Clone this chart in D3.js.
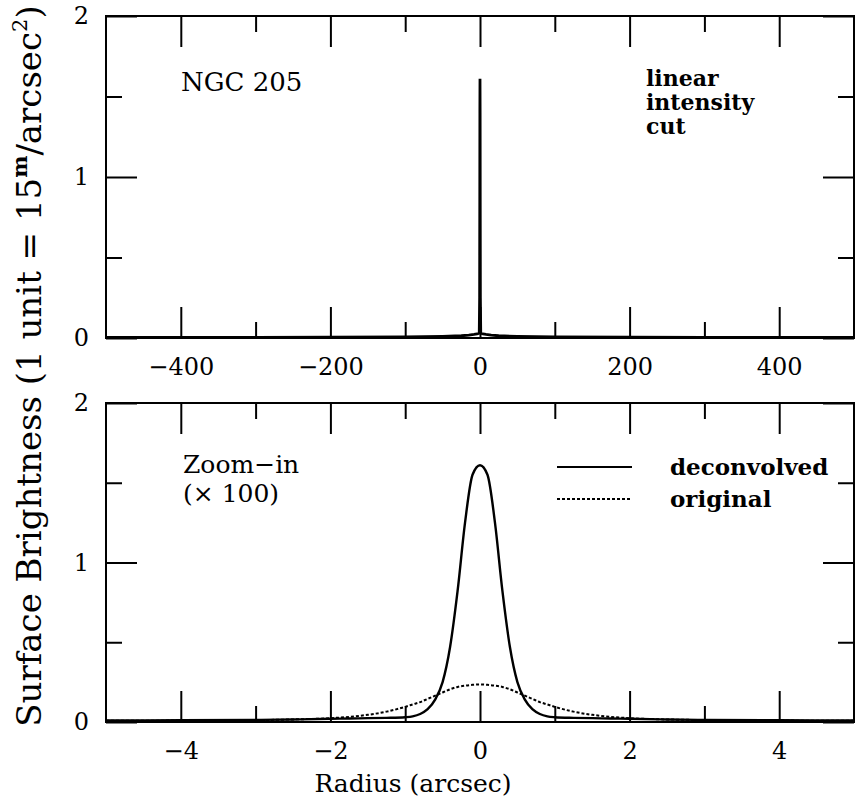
<!DOCTYPE html>
<html>
<head>
<meta charset="utf-8">
<script src="https://cdn.jsdelivr.net/npm/d3@7"></script>
<style>
  body { margin: 0; background: #fff; }
  svg { display: block; font-family: "DejaVu Serif", serif; }
</style>
</head>
<body>
<script>
// top panel: full cut, radius in arcsec
const topRadius = [-500, -400, -300, -200, -100, -50, -25, -15, -8, -4, -2, -1, -0.5, -0.3, -0.15, 0,
                   0.15, 0.3, 0.5, 1, 2, 4, 8, 15, 25, 50, 100, 200, 300, 400, 500]
const topBrightness = [0.003, 0.003, 0.004, 0.005, 0.007, 0.01, 0.014, 0.018, 0.022, 0.025, 0.028, 0.03, 0.25, 0.82, 1.4, 1.61,
                       1.4, 0.82, 0.25, 0.03, 0.028, 0.025, 0.022, 0.018, 0.014, 0.01, 0.007, 0.005, 0.004, 0.003, 0.003]

// bottom panel: zoom-in
const zoomRadius = [-5, -4, -3, -2.5, -2, -1.75, -1.5, -1.25, -1, -0.9, -0.8, -0.7, -0.6, -0.5, -0.4, -0.3, -0.2, -0.1, 0,
                    0.1, 0.2, 0.3, 0.4, 0.5, 0.6, 0.7, 0.8, 0.9, 1, 1.25, 1.5, 1.75, 2, 2.5, 3, 4, 5]
const deconvolved = [0.01, 0.011, 0.013, 0.016, 0.02, 0.022, 0.024, 0.026, 0.03, 0.035, 0.05, 0.08, 0.14, 0.25, 0.47, 0.82, 1.25, 1.55, 1.61,
                     1.55, 1.25, 0.82, 0.47, 0.25, 0.14, 0.08, 0.05, 0.035, 0.03, 0.026, 0.024, 0.022, 0.02, 0.016, 0.013, 0.011, 0.01]
const original = [0.008, 0.009, 0.012, 0.016, 0.024, 0.032, 0.045, 0.065, 0.095, 0.11, 0.125, 0.145, 0.165, 0.185, 0.205, 0.22, 0.228, 0.233, 0.235,
                  0.233, 0.228, 0.22, 0.205, 0.185, 0.165, 0.145, 0.125, 0.11, 0.095, 0.065, 0.045, 0.032, 0.024, 0.016, 0.012, 0.009, 0.008]

const topMajor = [-400, -200, 0, 200, 400]
const topMinor = [-300, -100, 100, 300]
const zoomMajor = [-4, -2, 0, 2, 4]
const zoomMinor = [-3, -1, 1, 3]
const yMajor = [0, 1, 2]
const yMinor = [0.5, 1.5]

const W = 855, H = 804
const left = 106, right = 854
const MAJ = 31, MIN = 16

const svg = d3.select('body').append('svg')
    .attr('width', W)
    .attr('height', H)

function panel(xDomain, top, bottom, xMajor, xMinor, fmt) {
  const x = d3.scaleLinear().domain(xDomain).range([left, right])
  const y = d3.scaleLinear().domain([0, 2]).range([bottom, top])
  const g = svg.append('g')

  const tickStyle = sel => {
    sel.select('.domain').remove()
    sel.selectAll('line').attr('stroke', '#000').attr('stroke-width', 2)
    sel.selectAll('text').attr('fill', '#000').style('font-family', '"DejaVu Serif", serif').style('font-size', '24px')
  }

  // x ticks, bottom (labelled) and top
  g.append('g').attr('transform', 'translate(0,' + bottom + ')')
    .call(d3.axisBottom(x).tickValues(xMajor).tickSize(-MAJ).tickPadding(20).tickFormat(fmt)).call(tickStyle)
  g.append('g').attr('transform', 'translate(0,' + bottom + ')')
    .call(d3.axisBottom(x).tickValues(xMinor).tickSize(-MIN).tickFormat('')).call(tickStyle)
  g.append('g').attr('transform', 'translate(0,' + top + ')')
    .call(d3.axisTop(x).tickValues(xMajor).tickSize(-MAJ).tickFormat('')).call(tickStyle)
  g.append('g').attr('transform', 'translate(0,' + top + ')')
    .call(d3.axisTop(x).tickValues(xMinor).tickSize(-MIN).tickFormat('')).call(tickStyle)

  // y ticks, left (labelled) and right
  g.append('g').attr('transform', 'translate(' + left + ',0)')
    .call(d3.axisLeft(y).tickValues(yMajor).tickSize(-MAJ).tickPadding(17).tickFormat(d3.format('d'))).call(tickStyle)
  g.append('g').attr('transform', 'translate(' + left + ',0)')
    .call(d3.axisLeft(y).tickValues(yMinor).tickSize(-MIN).tickFormat('')).call(tickStyle)
  g.append('g').attr('transform', 'translate(' + right + ',0)')
    .call(d3.axisRight(y).tickValues(yMajor).tickSize(-MAJ).tickFormat('')).call(tickStyle)
  g.append('g').attr('transform', 'translate(' + right + ',0)')
    .call(d3.axisRight(y).tickValues(yMinor).tickSize(-MIN).tickFormat('')).call(tickStyle)

  g.append('rect')
    .attr('x', left).attr('y', top)
    .attr('width', right - left).attr('height', bottom - top)
    .attr('fill', 'none').attr('stroke', '#000').attr('stroke-width', 2)

  return { x, y, g }
}

const minusFmt = d => d3.format('d')(d).replace('-', '\u2212')

const p1 = panel([-500, 500], 16, 338, topMajor, topMinor, minusFmt)
const p2 = panel([-5, 5], 403, 722, zoomMajor, zoomMinor, minusFmt)

// curves
const topLine = d3.line()
    .x((d, i) => p1.x(topRadius[i]))
    .y(d => p1.y(d))
p1.g.append('path')
    .datum(topBrightness)
    .attr('d', topLine)
    .attr('fill', 'none').attr('stroke', '#000').attr('stroke-width', 2.8)

const zoomLine = d3.line()
    .x((d, i) => p2.x(zoomRadius[i]))
    .y(d => p2.y(d))
    .curve(d3.curveMonotoneX)
p2.g.append('path')
    .datum(original)
    .attr('d', zoomLine)
    .attr('fill', 'none').attr('stroke', '#000').attr('stroke-width', 2)
    .attr('stroke-dasharray', '3,2')
p2.g.append('path')
    .datum(deconvolved)
    .attr('d', zoomLine)
    .attr('fill', 'none').attr('stroke', '#000').attr('stroke-width', 2.4)

// annotations
svg.append('text').attr('x', 181).attr('y', 91).style('font-size', '26px').text('NGC 205')
;['linear', 'intensity', 'cut'].forEach((t, i) => {
  svg.append('text').attr('x', 646).attr('y', 86 + i * 24)
    .style('font-size', '22px').style('font-weight', 'bold').text(t)
})
svg.append('text').attr('x', 183).attr('y', 473).style('font-size', '25px').text('Zoom\u2212in')
svg.append('text').attr('x', 183).attr('y', 502).style('font-size', '25px').text('(\u00d7 100)')

// legend
const legend = [
  { label: 'deconvolved', y: 467, dash: null },
  { label: 'original', y: 499, dash: '3,2' }
]
legend.forEach(l => {
  svg.append('line')
    .attr('x1', 557).attr('x2', 632).attr('y1', l.y).attr('y2', l.y)
    .attr('stroke', '#000').attr('stroke-width', 2)
    .attr('stroke-dasharray', l.dash)
  svg.append('text').attr('x', 670).attr('y', l.y + 8)
    .style('font-size', '23px').style('font-weight', 'bold').text(l.label)
})

// axis titles
svg.append('text')
    .attr('x', 413).attr('y', 792)
    .attr('text-anchor', 'middle')
    .style('font-size', '25px')
    .text('Radius (arcsec)')

const yTitle = svg.append('text')
    .attr('transform', 'translate(41,366) rotate(-90)')
    .attr('text-anchor', 'middle')
    .style('font-size', '34px')
yTitle.append('tspan').text('Surface Brightness (1 unit = 15')
yTitle.append('tspan').attr('dy', -14).style('font-size', '21px').style('font-weight', 'bold').text('m')
yTitle.append('tspan').attr('dy', 14).text('/arcsec')
yTitle.append('tspan').attr('dy', -14).style('font-size', '21px').text('2')
yTitle.append('tspan').attr('dy', 14).text(')')
</script>
</body>
</html>
